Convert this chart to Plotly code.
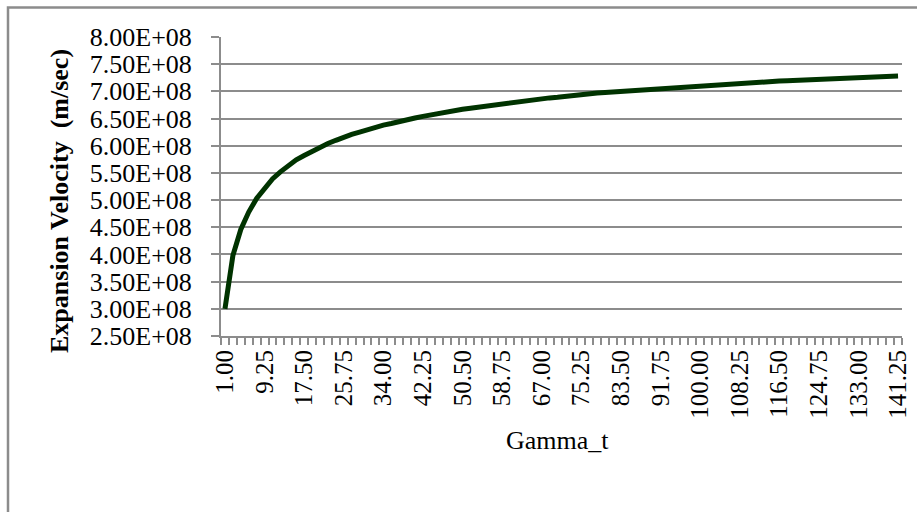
import plotly.graph_objects as go

gamma_t = ["1.00", "2.65", "4.30", "5.95", "7.60", "9.25", "10.90", "12.55", "14.20", "15.85",
           "17.50", "19.15", "20.80", "22.45", "24.10", "25.75", "27.40", "29.05", "30.70", "32.35",
           "34.00", "35.65", "37.30", "38.95", "40.60", "42.25", "43.90", "45.55", "47.20", "48.85",
           "50.50", "52.15", "53.80", "55.45", "57.10", "58.75", "60.40", "62.05", "63.70", "65.35",
           "67.00", "68.65", "70.30", "71.95", "73.60", "75.25", "76.90", "78.55", "80.20", "81.85",
           "83.50", "85.15", "86.80", "88.45", "90.10", "91.75", "93.40", "95.05", "96.70", "98.35",
           "100.00", "101.65", "103.30", "104.95", "106.60", "108.25", "109.90", "111.55", "113.20", "114.85",
           "116.50", "118.15", "119.80", "121.45", "123.10", "124.75", "126.40", "128.05", "129.70", "131.35",
           "133.00", "134.65", "136.30", "137.95", "139.60", "141.25"]

velocity = [3.00e8, 3.98e8, 4.46e8, 4.78e8, 5.03e8, 5.22e8, 5.39e8, 5.52e8, 5.64e8, 5.74e8,
            5.82e8, 5.90e8, 5.98e8, 6.04e8, 6.10e8, 6.16e8, 6.21e8, 6.25e8, 6.30e8, 6.34e8,
            6.38e8, 6.41e8, 6.45e8, 6.48e8, 6.51e8, 6.54e8, 6.57e8, 6.60e8, 6.62e8, 6.65e8,
            6.67e8, 6.69e8, 6.71e8, 6.74e8, 6.76e8, 6.78e8, 6.79e8, 6.81e8, 6.83e8, 6.85e8,
            6.86e8, 6.88e8, 6.89e8, 6.91e8, 6.92e8, 6.94e8, 6.95e8, 6.97e8, 6.98e8, 6.99e8,
            7.00e8, 7.02e8, 7.03e8, 7.04e8, 7.05e8, 7.06e8, 7.07e8, 7.08e8, 7.09e8, 7.10e8,
            7.11e8, 7.122e8, 7.130e8, 7.138e8, 7.145e8, 7.153e8, 7.160e8, 7.168e8, 7.175e8, 7.182e8,
            7.189e8, 7.196e8, 7.202e8, 7.209e8, 7.216e8, 7.222e8, 7.229e8, 7.235e8, 7.241e8, 7.248e8,
            7.254e8, 7.260e8, 7.266e8, 7.271e8, 7.277e8, 7.283e8]

x_label_every = 5
x_tick_text = [g if i % x_label_every == 0 else "" for i, g in enumerate(gamma_t)]

y_tick_vals = [2.5e8, 3.0e8, 3.5e8, 4.0e8, 4.5e8, 5.0e8, 5.5e8, 6.0e8, 6.5e8, 7.0e8, 7.5e8, 8.0e8]
y_tick_text = ["2.50E+08", "3.00E+08", "3.50E+08", "4.00E+08", "4.50E+08", "5.00E+08",
               "5.50E+08", "6.00E+08", "6.50E+08", "7.00E+08", "7.50E+08", "8.00E+08"]

x_title = "Gamma_t"
y_title = "Expansion Velocity  (m/sec)"

GRAY = "#8c8c8c"
FONT = "Liberation Serif"

fig = go.Figure()
fig.add_trace(go.Scatter(
    x=gamma_t, y=velocity, mode="lines",
    line=dict(color="#003300", width=5),
    hoverinfo="x+y", showlegend=False,
))

W, H = 917, 512
L, R, T, B = 221, 15, 37, 176

fig.update_layout(
    width=W, height=H,
    margin=dict(l=L, r=R, t=T, b=B, pad=0, autoexpand=False),
    paper_bgcolor="white", plot_bgcolor="white",
    font=dict(family=FONT, size=26, color="black"),
    xaxis=dict(
        type="category", range=[-0.5, len(gamma_t) - 0.5], automargin=False,
        tickmode="array", tickvals=gamma_t, ticktext=x_tick_text,
        tickangle=-90, tickson="boundaries",
        ticks="outside", ticklen=7, tickwidth=1.5, tickcolor=GRAY,
        showgrid=False, zeroline=False,
        showline=True, linecolor=GRAY, linewidth=2,
        tickfont=dict(family=FONT, size=25, color="black"),
        ticklabelstandoff=2,
    ),
    yaxis=dict(
        range=[2.5e8, 8.0e8], automargin=False,
        tickmode="array", tickvals=y_tick_vals, ticktext=y_tick_text,
        ticks="outside", ticklen=8, tickwidth=2, tickcolor=GRAY,
        showgrid=True, gridcolor=GRAY, gridwidth=2,
        zeroline=False,
        showline=True, linecolor=GRAY, linewidth=2,
        tickfont=dict(family=FONT, size=26, color="black"),
        ticklabelstandoff=14,
    ),
    annotations=[
        dict(text=y_title, textangle=-90, xref="paper", yref="paper",
             x=(59 - L) / (W - L - R), y=(H - B - 201) / (H - T - B),
             xanchor="center", yanchor="middle", showarrow=False,
             font=dict(family=FONT, size=26, color="black", weight="bold")),
        dict(text=x_title, xref="paper", yref="paper",
             x=(557 - L) / (W - L - R), y=(H - B - 440) / (H - T - B),
             xanchor="center", yanchor="middle", showarrow=False,
             font=dict(family=FONT, size=26, color="black")),
    ],
    shapes=[
        dict(type="rect", xref="paper", yref="paper",
             x0=(8 - L) / (W - L - R), x1=(920 - L) / (W - L - R),
             y0=(H - B - 515) / (H - T - B), y1=(H - B - 7.5) / (H - T - B),
             line=dict(color=GRAY, width=2.5), fillcolor="rgba(0,0,0,0)", layer="below"),
    ],
)

fig.write_html("out.html", config={"displayModeBar": False},
               post_script="document.body.style.margin='0';document.body.style.overflow='hidden';")
